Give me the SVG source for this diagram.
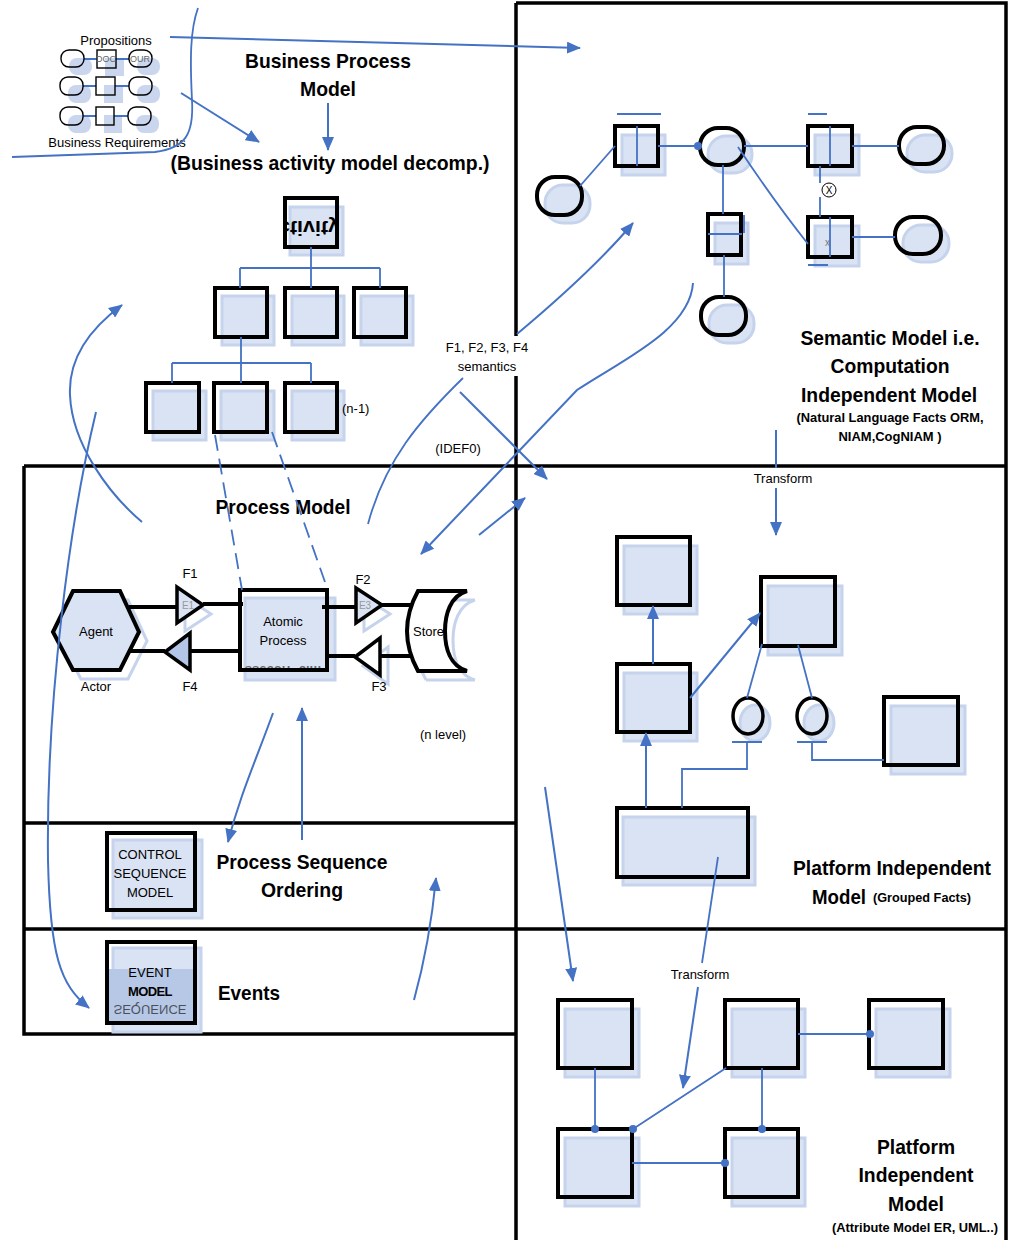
<svg xmlns="http://www.w3.org/2000/svg" width="1010" height="1240" viewBox="0 0 1010 1240">
<defs>
<style>
text{font-family:"Liberation Sans",Arial,sans-serif;fill:#000}
.h{font-size:21px;font-weight:bold;text-anchor:middle}
.s{font-size:13px;text-anchor:middle}
.sb{font-size:12px;font-weight:bold;text-anchor:middle}
.frame{fill:none;stroke:#000;stroke-width:3.5}
.ol{fill:none;stroke:#000;stroke-width:4}
.olw{fill:#fff;stroke:#000;stroke-width:4}
.sh{fill:#dae3f3;stroke:#c5d3ec;stroke-width:3}
.shl{fill:none;stroke:#c5d3ec;stroke-width:3}
.ln{fill:none;stroke:#4472c4;stroke-width:1.8}
.ar{fill:none;stroke:#4472c4;stroke-width:2;marker-end:url(#ah)}
.dash{fill:none;stroke:#4472c4;stroke-width:1.8;stroke-dasharray:16 8}
.dot{fill:#4472c4}
.thin{fill:none;stroke:#000;stroke-width:1.4}
.fsh{fill:#c9d6ee}
.bl{fill:none;stroke:#000;stroke-width:4}
</style>
<marker id="ah" viewBox="0 0 14 12" refX="13" refY="6" markerWidth="14" markerHeight="12" orient="auto" markerUnits="userSpaceOnUse"><path d="M0,0 L14,6 L0,12 z" fill="#4472c4"/></marker>
<clipPath id="cpAct"><rect x="286" y="200" width="50" height="45"/></clipPath>
<clipPath id="cpAtom"><rect x="242" y="658" width="84" height="11"/></clipPath>
<clipPath id="cpEv"><rect x="109" y="1001" width="84" height="20"/></clipPath>
</defs>

<!-- swimlane frames -->
<g id="frames">
<path class="frame" d="M516,3 H1006 V1240 M516,3 V336 M516,376 V1240 M24,466 H1006 M24,929 H1006 M24,466 V1034 H517 M24,823 H517"/>
</g>

<!-- propositions / business requirements thumbnail -->
<g id="propositions">
<rect class="fsh" x="69" y="58" width="23" height="17" rx="8"/>
<rect class="fsh" x="105" y="58" width="19" height="18"/>
<rect class="fsh" x="137" y="58" width="23" height="17" rx="8"/>
<rect class="fsh" x="68" y="85" width="23" height="18" rx="8"/>
<rect class="fsh" x="104" y="85" width="19" height="18"/>
<rect class="fsh" x="137" y="85" width="23" height="18" rx="8"/>
<rect class="fsh" x="68" y="115" width="23" height="18" rx="8"/>
<rect class="fsh" x="104" y="115" width="18" height="18"/>
<rect class="fsh" x="136" y="115" width="23" height="18" rx="8"/>
<path class="ln" stroke-width="1.3" d="M84,59 H97 M116,59 H129 M83,86 H96 M115,86 H129 M83,116 H96 M114,116 H128"/>
<rect class="thin" x="61" y="50" width="23" height="17" rx="8"/>
<rect class="thin" x="97" y="50" width="19" height="18"/>
<rect class="thin" x="129" y="50" width="23" height="17" rx="8"/>
<rect class="thin" x="60" y="77" width="23" height="18" rx="8"/>
<rect class="thin" x="96" y="77" width="19" height="18"/>
<rect class="thin" x="129" y="77" width="23" height="18" rx="8"/>
<rect class="thin" x="60" y="107" width="23" height="18" rx="8"/>
<rect class="thin" x="96" y="107" width="18" height="18"/>
<rect class="thin" x="128" y="107" width="23" height="18" rx="8"/>
<text x="106" y="62" font-size="9" text-anchor="middle" style="fill:#666">DOC</text>
<text x="140" y="62" font-size="9" text-anchor="middle" style="fill:#666">OUR</text>
<text class="s" x="116" y="44.5">Propositions</text>
<text class="s" x="117" y="146.5">Business Requirements</text>
</g>

<!-- headings, left column -->
<g id="bpm-title">
<text class="h" x="328" y="68" textLength="166" lengthAdjust="spacingAndGlyphs">Business Process</text>
<text class="h" x="328" y="96" textLength="56" lengthAdjust="spacingAndGlyphs">Model</text>
<text class="h" x="330" y="170" textLength="319" lengthAdjust="spacingAndGlyphs">(Business activity model decomp.)</text>
</g>

<!-- activity decomposition tree -->
<g id="activity-root">
<rect class="sh" x="290" y="207" width="53" height="48"/>
<g clip-path="url(#cpAct)"><text class="h" font-size="22" transform="translate(309,229) scale(1,-1)" x="0" y="8" textLength="62" lengthAdjust="spacingAndGlyphs">ctivity</text></g>
<rect class="ol" x="285" y="198" width="52" height="49"/>
</g>
<g id="activity-l1a"><rect class="sh" x="222" y="296" width="52" height="49"/><rect class="ol" x="215" y="288" width="52" height="49"/></g>
<g id="activity-l1b"><rect class="sh" x="292" y="296" width="52" height="49"/><rect class="ol" x="285" y="288" width="52" height="49"/></g>
<g id="activity-l1c"><rect class="sh" x="361" y="296" width="52" height="49"/><rect class="ol" x="354" y="288" width="52" height="49"/></g>
<g id="activity-l2a"><rect class="sh" x="153" y="391" width="53" height="49"/><rect class="ol" x="146" y="383" width="53" height="49"/></g>
<g id="activity-l2b"><rect class="sh" x="221" y="391" width="53" height="49"/><rect class="ol" x="214" y="383" width="53" height="49"/></g>
<g id="activity-l2c"><rect class="sh" x="292" y="391" width="52" height="49"/><rect class="ol" x="285" y="383" width="52" height="49"/></g>
<text x="342" y="412.5" font-size="13">(n-1)</text>
<text class="s" x="487" y="351.5">F1, F2, F3, F4</text>
<text class="s" x="487" y="370.5">semantics</text>
<text class="s" x="458" y="452.5">(IDEF0)</text>

<!-- process model lane -->
<text class="h" x="283" y="514" textLength="135" lengthAdjust="spacingAndGlyphs">Process Model</text>
<g id="agent">
<polygon class="shl" points="61,641 81,600 128,600 147,641 128,679 81,679"/>
<polygon fill="#dae3f3" stroke="#000" stroke-width="4" points="53,632 73,591 120,591 139,632 120,670 73,670"/>
<text class="s" x="96" y="636">Agent</text>
<text class="s" x="96" y="690.5">Actor</text>
</g>
<g id="flow-f1">
<polygon class="shl" points="185,597 185,631 211,614"/>
<polygon fill="#dae3f3" stroke="#000" stroke-width="3.5" points="177,587 177,623 203,605"/>
<text x="188" y="609" font-size="10" text-anchor="middle" style="fill:#999">E1</text>
<path class="bl" d="M129,607 H177 M203,604 H243"/>
<text class="s" x="190" y="577.5">F1</text>
</g>
<g id="flow-f4">
<polygon fill="#b4c6e7" stroke="#000" stroke-width="3.5" points="165,652 190,633 190,670"/>
<path class="bl" d="M128,651 H165 M190,651 H240"/>
<text class="s" x="190" y="690.5">F4</text>
</g>
<g id="atomic-process">
<rect class="sh" x="245" y="598" width="90" height="82"/>
<g clip-path="url(#cpAtom)" opacity="0.55"><text class="s" font-weight="bold" transform="translate(283,666) scale(1,-1)" y="0">ssecorP cim</text></g>
<rect class="ol" x="240" y="590" width="87" height="80"/>
<text class="s" x="283" y="625.5">Atomic</text>
<text class="s" x="283" y="644.5">Process</text>
</g>
<g id="flow-f2">
<polygon class="shl" points="364,597 364,631 390,614"/>
<polygon fill="#dae3f3" stroke="#000" stroke-width="3.5" points="356,588 356,623 382,605"/>
<text x="365" y="609" font-size="10" text-anchor="middle" style="fill:#999">E3</text>
<path class="bl" d="M322,607 H356 M382,605 H412"/>
<text class="s" x="363" y="583.5">F2</text>
</g>
<g id="flow-f3">
<polygon class="shl" points="363,666 388,647 388,684"/>
<polygon fill="#fff" stroke="#000" stroke-width="3.5" points="355,657 380,638 380,675"/>
<path class="bl" d="M327,656 H355 M380,656 H412"/>
<text class="s" x="379" y="690.5">F3</text>
</g>
<g id="store">
<path class="shl" d="M426,600 H475 M426,680 H475 M426,600 Q404,640 426,680 M475,600 C458,605 453,624 453,640 C453,657 458,675 475,680"/>
<path class="olw" d="M418,591 H467 C450,596 445,615 445,631 C445,648 450,666 467,671 H418 Q396,631 418,591 Z"/>
<text x="413" y="635.5" font-size="13">Store</text>
</g>
<text class="s" x="443" y="738.5">(n level)</text>

<!-- control sequence lane -->
<g id="control-sequence">
<rect class="sh" x="113" y="840" width="89" height="78"/>
<rect class="ol" x="107" y="833" width="88" height="77"/>
<text class="s" x="150" y="858.5">CONTROL</text>
<text class="s" x="150" y="877.5">SEQUENCE</text>
<text class="s" x="150" y="896.5">MODEL</text>
</g>
<text class="h" x="302" y="869" textLength="171" lengthAdjust="spacingAndGlyphs">Process Sequence</text>
<text class="h" x="302" y="897" textLength="82" lengthAdjust="spacingAndGlyphs">Ordering</text>

<!-- events lane -->
<g id="event-model">
<rect class="sh" x="113" y="948" width="88" height="84"/>
<rect x="109" y="969" width="84" height="52" fill="#b7c8e6"/>
<g clip-path="url(#cpEv)" opacity="0.6"><text class="s" transform="translate(150,1010) scale(1,-1)" y="5">SEQUENCE</text></g>
<rect class="ol" x="107" y="942" width="88" height="81"/>
<text class="s" x="150" y="976.5">EVENT</text>
<text class="s" x="150" y="995.5" font-weight="bold" letter-spacing="-0.6">MODEL</text>
</g>
<text class="h" x="249" y="1000" textLength="62" lengthAdjust="spacingAndGlyphs">Events</text>

<!-- semantic model (CIM) -->
<g id="sem-pill1"><rect class="sh" x="545" y="185" width="45" height="38" rx="18"/><rect class="ol" x="537" y="177" width="45" height="38" rx="18"/></g>
<g id="sem-fact-a">
<rect class="sh" x="622" y="135" width="43" height="40"/>
<rect class="ol" x="615" y="126" width="43" height="40"/>
<path class="ln" d="M637,126 V166 M617,114 H661"/>
</g>
<g id="sem-pill2"><rect class="sh" x="708" y="136" width="44" height="37" rx="18"/><rect class="ol" x="700" y="128" width="44" height="37" rx="18"/></g>
<g id="sem-fact-b">
<rect class="sh" x="815" y="135" width="44" height="40"/>
<rect class="ol" x="808" y="126" width="44" height="40"/>
<path class="ln" d="M830,126 V166 M808,114 H827"/>
</g>
<g id="sem-pill3"><rect class="sh" x="907" y="135" width="45" height="37" rx="18"/><rect class="ol" x="899" y="127" width="45" height="37" rx="18"/></g>
<g id="sem-fact-c">
<rect class="sh" x="715" y="223" width="33" height="41"/>
<rect class="ol" x="708" y="214" width="33" height="41"/>
<path class="ln" d="M708,234 H742 M744,215 V233"/>
</g>
<g id="sem-pill4"><rect class="sh" x="709" y="305" width="45" height="38" rx="18"/><rect class="ol" x="701" y="297" width="45" height="38" rx="18"/></g>
<g id="sem-fact-d">
<rect class="sh" x="815" y="226" width="44" height="40"/>
<rect class="ol" x="808" y="217" width="44" height="40"/>
<text x="825" y="246" font-size="10" style="fill:#777">x</text>
<path class="ln" d="M830,217 V257 M808,265 H828"/>
</g>
<g id="sem-pill5"><rect class="sh" x="903" y="225" width="46" height="37" rx="18"/><rect class="ol" x="895" y="217" width="46" height="37" rx="18"/></g>
<g id="sem-exclusion">
<circle cx="829" cy="190" r="7" fill="#fff" stroke="#000" stroke-width="1"/>
<text x="829" y="194" font-size="10" text-anchor="middle">X</text>
</g>
<g id="cim-title">
<text class="h" x="890" y="345" textLength="179" lengthAdjust="spacingAndGlyphs">Semantic Model i.e.</text>
<text class="h" x="890" y="373" textLength="119" lengthAdjust="spacingAndGlyphs">Computation</text>
<text class="h" x="889" y="402" textLength="176" lengthAdjust="spacingAndGlyphs">Independent Model</text>
<text class="sb" x="890" y="422" textLength="187" lengthAdjust="spacingAndGlyphs">(Natural Language Facts ORM,</text>
<text class="sb" x="890" y="441" textLength="103" lengthAdjust="spacingAndGlyphs">NIAM,CogNIAM )</text>
</g>

<!-- platform independent model (grouped facts) -->
<g id="pim-g1"><rect class="sh" x="624" y="546" width="73" height="68"/><rect class="ol" x="617" y="537" width="73" height="68"/></g>
<g id="pim-g2"><rect class="sh" x="624" y="673" width="73" height="68"/><rect class="ol" x="617" y="664" width="73" height="68"/></g>
<g id="pim-g3"><rect class="sh" x="768" y="586" width="74" height="69"/><rect class="ol" x="761" y="577" width="74" height="69"/></g>
<g id="pim-g4"><rect class="sh" x="891" y="706" width="74" height="68"/><rect class="ol" x="884" y="697" width="74" height="68"/></g>
<g id="pim-g5"><rect class="sh" x="623" y="817" width="132" height="68"/><rect class="ol" x="617" y="808" width="131" height="69"/></g>
<g id="pim-c1"><ellipse class="sh" cx="755" cy="723" rx="15" ry="18"/><ellipse fill="none" stroke="#000" stroke-width="3.5" cx="748" cy="716" rx="15" ry="18"/></g>
<g id="pim-c2"><ellipse class="sh" cx="819" cy="723" rx="15" ry="18"/><ellipse fill="none" stroke="#000" stroke-width="3.5" cx="812" cy="716" rx="15" ry="18"/></g>
<g id="pim1-title">
<text class="h" x="892" y="875" textLength="198" lengthAdjust="spacingAndGlyphs">Platform Independent</text>
<text x="812" y="904" font-size="21" font-weight="bold" textLength="54" lengthAdjust="spacingAndGlyphs">Model</text>
<text x="873" y="902" font-size="12" font-weight="bold" textLength="98" lengthAdjust="spacingAndGlyphs">(Grouped Facts)</text>
</g>

<!-- platform independent model (attributes) -->
<g id="er-1"><rect class="sh" x="565" y="1009" width="74" height="68"/><rect class="ol" x="558" y="1000" width="74" height="68"/></g>
<g id="er-2"><rect class="sh" x="732" y="1009" width="73" height="68"/><rect class="ol" x="725" y="1000" width="73" height="68"/></g>
<g id="er-3"><rect class="sh" x="876" y="1009" width="74" height="68"/><rect class="ol" x="869" y="1000" width="74" height="68"/></g>
<g id="er-4"><rect class="sh" x="565" y="1138" width="74" height="68"/><rect class="ol" x="558" y="1129" width="74" height="68"/></g>
<g id="er-5"><rect class="sh" x="732" y="1138" width="73" height="68"/><rect class="ol" x="725" y="1129" width="73" height="68"/></g>
<g id="pim2-title">
<text class="h" x="916" y="1154" textLength="78" lengthAdjust="spacingAndGlyphs">Platform</text>
<text class="h" x="916" y="1182" textLength="115" lengthAdjust="spacingAndGlyphs">Independent</text>
<text class="h" x="916" y="1211" textLength="56" lengthAdjust="spacingAndGlyphs">Model</text>
<text class="sb" x="915" y="1232" textLength="166" lengthAdjust="spacingAndGlyphs">(Attribute Model ER, UML..)</text>
</g>

<!-- connectors -->
<g id="connectors">
<!-- thumbnail boundary and outgoing arrows -->
<path class="ln" stroke-width="1.4" d="M198,8 C190,30 190,60 192,100 C194,135 185,148 155,152 L12,157"/>
<path class="ar" d="M170,37 L580,48"/>
<path class="ar" d="M181,93 L259,142"/>
<path class="ar" d="M328,103 V150"/>
<!-- activity tree -->
<path class="ln" d="M311,247 V268 M240,268 H380 M240,268 V288 M311,268 V288 M380,268 V288"/>
<path class="ln" d="M241,337 V363 M172,363 H311 M172,363 V383 M241,363 V383 M311,363 V383"/>
<path class="dash" d="M215,435 L242,590"/>
<path class="dash" d="M272,432 L325,582"/>
<!-- left side curves -->
<path class="ar" d="M142,522 C110,495 72,445 70,395 C68,355 95,325 122,305"/>
<path class="ar" d="M96,412 C70,520 46,700 48,860 C50,955 60,985 89,1008"/>
<!-- semantics links -->
<path class="ln" d="M368,524 C385,460 420,420 463,378"/>
<path class="ar" d="M517,334 C560,298 600,262 633,223"/>
<path class="ar" d="M460,392 L547,479"/>
<path class="ar" d="M693,283 C690,330 622,360 577,390 L421,554"/>
<path class="ar" d="M479,535 L525,498"/>
<!-- process lane verticals -->
<path class="ar" d="M273,713 C256,760 240,795 228,842"/>
<path class="ar" d="M302,840 V708"/>
<path class="ar" d="M414,1000 C425,960 432,920 436,878"/>
<!-- semantic model links -->
<path class="ln" d="M580,186 L615,146"/>
<path class="ln" d="M658,146 H698"/>
<circle class="dot" cx="698" cy="146" r="4"/>
<path class="ln" d="M744,146 H808 M852,146 H899"/>
<path class="ln" d="M723,165 V214 M724,255 V297"/>
<path class="ln" d="M738,147 C760,180 785,215 808,244"/>
<path class="ln" d="M820,166 V183 M820,197 V217"/>
<path class="ln" d="M852,237 H895"/>
<!-- transform CIM to PIM -->
<path class="ar" d="M776,430 V468 M776,488 V535"/>
<text class="s" x="783" y="482.5">Transform</text>
<!-- grouped facts links -->
<path class="ar" d="M653,664 V606"/>
<path class="ar" d="M690,698 L760,613"/>
<path class="ln" d="M762,644 L747,698 M798,645 L812,698"/>
<path class="ln" d="M732,742 H762 M747,742 V769 H682 V808"/>
<path class="ln" d="M797,742 H827 M812,742 V760 H884"/>
<path class="ar" d="M646,808 V733"/>
<!-- to attribute model -->
<path class="ar" d="M545,787 L573,981"/>
<path class="ln" d="M718,857 L702,963"/>
<path class="ar" d="M698,987 L683,1088"/>
<text class="s" x="700" y="978.5">Transform</text>
<!-- ER links -->
<path class="ln" d="M595,1068 V1129 M726,1068 L633,1129 M762,1068 V1129 M798,1034 H870 M632,1163 H725"/>
<circle class="dot" cx="595" cy="1129" r="4"/>
<circle class="dot" cx="633" cy="1129" r="4"/>
<circle class="dot" cx="762" cy="1129" r="4"/>
<circle class="dot" cx="870" cy="1034" r="4"/>
<circle class="dot" cx="725" cy="1163" r="4"/>
</g>
</svg>
